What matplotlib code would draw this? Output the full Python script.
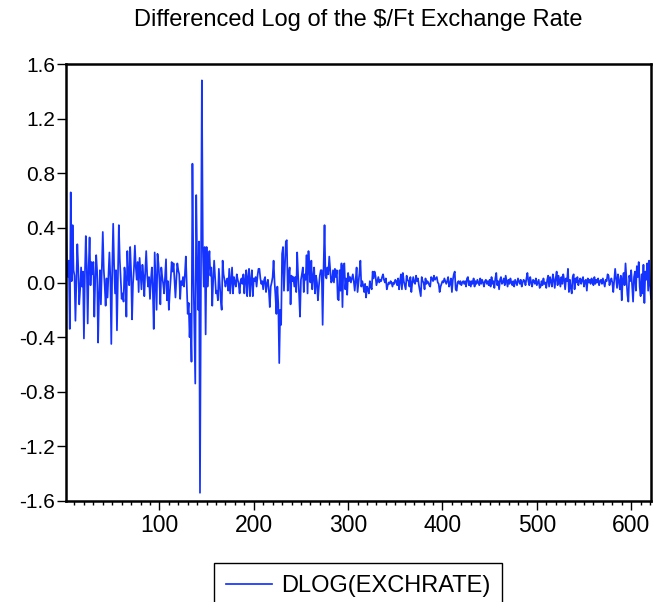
import numpy as np
import matplotlib
matplotlib.use("Agg")
import matplotlib.pyplot as plt
from matplotlib.ticker import MultipleLocator, FormatStrFormatter

seg_early = [  # obs 1-82
    0.48, 0.12, 0.04, 0.16, -0.34, 0.66, 0.01, 0.42, 0.09, 0.05,
    -0.28, 0.02, 0.28, 0.10, -0.16, -0.05, 0.11, -0.03, 0.08, -0.41,
    0.05, 0.34, 0.12, -0.30, 0.10, 0.33, -0.02, 0.15, 0.06, 0.15,
    -0.25, 0.02, 0.20, 0.08, -0.44, -0.10, 0.09, -0.16, 0.12, 0.37,
    0.10, -0.02, -0.17, 0.03, -0.11, 0.05, 0.22, 0.04, -0.45, 0.10,
    0.43, 0.12, -0.08, 0.09, -0.35, 0.05, 0.42, 0.17, 0.02, -0.12,
    -0.08, -0.14, 0.11, 0.03, -0.25, 0.23, 0.04, -0.02, 0.26, 0.08,
    -0.27, -0.01, 0.10, 0.27, 0.11, 0.02, 0.15, -0.07, 0.18, 0.06,
    -0.05, 0.13,
]
seg_pre_crisis = [  # obs 83-133
    0.05, -0.10, 0.08, 0.23, 0.06, -0.03, 0.04, -0.12, 0.02, 0.11,
    -0.05, -0.34, 0.22, 0.00, -0.20, 0.21, 0.14, 0.02, -0.16, 0.11,
    0.04, -0.01, -0.08, 0.05, 0.17, -0.13, 0.01, -0.20, -0.07, 0.03,
    0.15, 0.08, 0.14, 0.01, -0.11, 0.03, 0.14, 0.09, 0.06, -0.12,
    0.01, -0.02, 0.04, -0.03, 0.06, 0.19, -0.03, -0.23, -0.15, -0.40,
    -0.23,
]
seg_crisis = [  # obs 134-150
    -0.58, 0.87, 0.10, -0.30, -0.74, 0.64, 0.15, -0.20, 0.30, -1.54,
    0.05, 1.48, 0.26, -0.03, 0.26, -0.38, 0.26,
]
seg_after = [  # obs 151-205
    -0.03, 0.12, 0.23, 0.05, 0.11, -0.17, 0.02, 0.16, 0.04, -0.08,
    -0.06, -0.13, 0.10, -0.02, -0.13, -0.20, 0.16, 0.06, 0.02, -0.03,
    0.01, 0.03, -0.06, 0.10, -0.08, 0.02, 0.11, -0.08, 0.04, 0.00,
    -0.03, 0.06, 0.02, -0.01, -0.08, 0.01, 0.03, -0.01, 0.06, -0.08,
    0.02, 0.09, -0.10, 0.04, 0.10, -0.10, 0.02, 0.09, -0.10, 0.03,
    0.01, 0.04, -0.03, 0.05, 0.10,
]
seg_mid = [  # obs 206-301
    0.10, 0.03, -0.01, 0.01, -0.05, 0.02, 0.04, -0.07, -0.01, 0.02,
    -0.06, -0.18, -0.03, 0.00, 0.04, 0.16, 0.01, -0.10, -0.23, -0.03,
    -0.16, -0.59, -0.20, -0.31, 0.21, 0.26, -0.06, 0.12, 0.30, 0.31,
    -0.06, 0.05, 0.11, -0.16, 0.05, 0.01, 0.04, -0.03, 0.04, -0.07,
    0.22, 0.05, -0.08, -0.25, 0.02, 0.06, 0.11, -0.07, 0.06, 0.02,
    0.20, -0.08, 0.23, 0.09, 0.00, 0.16, -0.05, 0.04, 0.11, -0.08,
    0.05, 0.00, -0.13, -0.03, 0.05, 0.09, 0.09, -0.31, 0.11, 0.42,
    0.05, 0.03, 0.11, 0.06, 0.19, 0.09, 0.00, 0.01, 0.09, 0.00,
    0.10, 0.04, 0.09, -0.12, -0.13, 0.09, -0.06, 0.14, -0.18, 0.12,
    0.14, -0.05, 0.03, -0.09, 0.07, 0.01,
]
seg_calm = [  # obs 302-449
    0.04, 0.00, 0.03, 0.06, 0.01, -0.06, 0.02, 0.11, -0.07, 0.00,
    0.07, 0.16, -0.03, 0.01, -0.02, -0.07, -0.01, -0.11, -0.03, -0.05,
    -0.08, 0.01, -0.03, -0.05, 0.08, 0.03, 0.08, 0.05, -0.02, 0.01,
    0.04, 0.00, 0.02, 0.01, 0.04, 0.06, 0.02, 0.00, 0.03, -0.05,
    -0.02, 0.00, -0.01, 0.01, 0.00, -0.03, 0.00, -0.01, 0.02, 0.01,
    -0.02, 0.03, -0.05, 0.01, 0.06, -0.05, 0.07, 0.01, -0.02, -0.05,
    0.05, 0.02, 0.01, -0.03, 0.04, -0.07, 0.00, 0.04, 0.00, -0.01,
    0.05, 0.01, 0.03, -0.02, -0.06, -0.10, 0.04, 0.01, 0.00, -0.05,
    0.03, -0.01, 0.01, 0.00, -0.02, -0.03, 0.04, 0.03, 0.01, 0.05,
    0.02, 0.03, 0.04, 0.00, -0.01, -0.07, -0.03, -0.01, 0.01, 0.00,
    0.03, 0.01, -0.01, 0.01, 0.04, -0.03, -0.01, 0.03, -0.07, 0.02,
    0.06, 0.08, -0.05, -0.06, 0.00, 0.01, -0.01, 0.01, -0.02, 0.00,
    0.01, -0.01, 0.01, -0.03, 0.03, 0.04, -0.02, 0.01, -0.03, 0.01,
    -0.01, 0.03, -0.03, 0.01, -0.01, 0.02, 0.00, -0.02, 0.03, -0.01,
    0.02, 0.00, -0.03, 0.01, 0.02, -0.01, 0.01, -0.02,
]
seg_late = [  # obs 450-621
    0.02, -0.03, 0.04, -0.01, 0.01, -0.04, 0.03, 0.07, -0.02, 0.01,
    -0.05, 0.02, 0.04, -0.01, 0.00, 0.03, -0.02, 0.05, 0.01, -0.03,
    0.02, -0.01, 0.03, 0.00, -0.02,
    0.01, -0.03, 0.02, 0.00, -0.02, 0.03, 0.01, -0.01, 0.02, -0.03,
    0.00, 0.02, 0.01, -0.02, 0.03, 0.07, 0.01, -0.02, 0.04, 0.00,
    -0.03, 0.02, 0.01, -0.01, 0.03, -0.02, 0.00, 0.02, -0.04, -0.03,
    0.01, -0.02, 0.03, -0.01, 0.00,
    -0.04, 0.02, 0.05, -0.03, 0.04, 0.01, -0.03, 0.06, 0.02, -0.04,
    0.03, 0.08, -0.02, 0.05, 0.01, -0.03, 0.04, -0.01, 0.06, 0.02,
    -0.05, 0.03, 0.01, 0.10, -0.07, 0.02, -0.04, -0.08, 0.04, 0.06,
    -0.05, 0.03, 0.00, 0.04, -0.02, 0.01,
    0.03, -0.01, 0.02, 0.04, -0.03, 0.01, 0.02, -0.06, 0.03, 0.00,
    0.02, -0.01, 0.03, 0.01, -0.02, 0.04, -0.01, 0.02, 0.00, 0.03,
    -0.02, 0.01, 0.02, -0.01, 0.03, 0.00, -0.03, 0.02, 0.01, 0.06,
    0.05, -0.02, 0.01, 0.03, 0.00,
    -0.07, 0.02, 0.10, 0.03, -0.04, 0.06, 0.01, -0.05, 0.05, -0.13,
    0.02, 0.07, -0.02, 0.14, 0.03, -0.09, -0.14, 0.05, 0.01, 0.09,
    -0.03, -0.14, 0.04, 0.08, -0.06, 0.12, 0.04, 0.15, -0.03, -0.10,
    0.06, -0.08, 0.13, -0.15, 0.08, 0.02, 0.14, -0.06, 0.16, -0.02,
    -0.12,
]

dlog = np.array(seg_early + seg_pre_crisis + seg_crisis + seg_after
                + seg_mid + seg_calm + seg_late)
obs = np.arange(1, len(dlog) + 1)

title = "Differenced Log of the $/Ft Exchange Rate"
series_label = "DLOG(EXCHRATE)"

plt.rcParams["font.family"] = ["Liberation Sans", "DejaVu Sans"]

fig = plt.figure(figsize=(6.54, 6.02), dpi=100)
ax = fig.add_axes([66 / 654, 1 - 501 / 602, 585 / 654, 437 / 602])

line, = ax.plot(obs, dlog, color="#1533ff", linewidth=1.25)

ax.set_xlim(1, len(dlog))
ax.set_ylim(-1.6, 1.6)
ax.yaxis.set_major_locator(MultipleLocator(0.4))
ax.yaxis.set_major_formatter(FormatStrFormatter("%.1f"))
ax.xaxis.set_major_locator(MultipleLocator(100))
ax.xaxis.set_minor_locator(MultipleLocator(10))

for s in ax.spines.values():
    s.set_linewidth(1.8)
ax.tick_params(axis="y", direction="out", length=6.5, width=1, labelsize=15, pad=1.5)
ax.tick_params(axis="x", which="major", direction="out", length=6.5, width=1,
               labelsize=16.5, pad=3)
ax.tick_params(axis="x", which="minor", direction="out", length=3, width=1)

fig.text(358 / 654, 1 - 20 / 602, title, ha="center", va="center", fontsize=17)

# legend box runs off the bottom edge, as in the reference
fig.legend([line], [series_label], loc="upper center",
           bbox_to_anchor=(358 / 654, 1 - 563 / 602), borderaxespad=0,
           fontsize=17, frameon=True, fancybox=False, edgecolor="black",
           framealpha=1, handlelength=1.95, borderpad=0.5, handletextpad=0.4)

fig.savefig("out.png", dpi=100)
